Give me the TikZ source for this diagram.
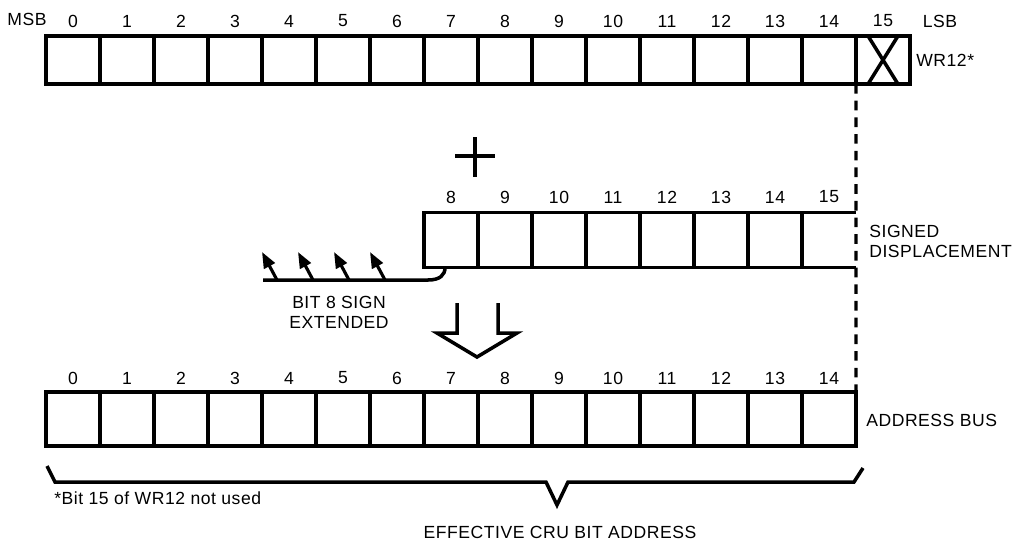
\documentclass[tikz,border=0pt]{standalone}
\usepackage{fontspec}
\setmainfont[LetterSpace=3]{Liberation Sans}
\usetikzlibrary{arrows.meta}

\begin{document}
\begin{tikzpicture}
	[x=0.02cm,y=-0.02cm,
	box/.style={rectangle,draw=black,line width=2pt,outer sep=0pt,minimum width=1.08cm,minimum height=1.08cm,inner sep=0pt},
	plain/.style={draw=none,fill=none,inner sep=0pt,font=\fontsize{10}{11.4}\selectfont},
	edge/.style={line width=2pt},
	signarrow/.style={line width=1.8pt,arrows={-Triangle[length=3.2mm,width=2.4mm]}}
	]
	\useasboundingbox (0,0) rectangle (1023,545);

	% WR12
	\foreach \i in {0,...,15}{
		\node[box,minimum height=0.96cm] (t\i) at ({73+54*\i},60){};
		\node[plain] (tl\i) at ({73+54*\i},21){\i};
	}
	\draw[edge] ([xshift=-8.5pt]t15.north) -- ([xshift=8.5pt]t15.south);
	\draw[edge] ([xshift=8.5pt]t15.north) -- ([xshift=-8.5pt]t15.south);
	\node[plain] (msb) at (27,19){MSB};
	\node[plain] (lsb) at (940,21){LSB};
	\node[plain,anchor=west] (wr) at (916,60){WR12*};

	% plus
	\draw[edge] (455,156) -- (495,156) (475,137) -- (475,177);

	% signed displacement
	\foreach \i in {8,...,14}
		\node[box,minimum height=1.1cm] (m\i) at ({73+54*(\i-1)},240){};
	\node[box,draw=none,minimum height=1.1cm] (m15) at ({73+54*14},240){};
	\draw[edge] (m14.north east) -- (m15.north east);
	\draw[edge] (m14.south east) -- (m15.south east);
	\foreach \i in {8,...,15}
		\node[plain] (ml\i) at ({73+54*(\i-1)},197){\i};
	\node[plain,anchor=west,align=left] (sd) at (869,241){SIGNED\\DISPLACEMENT};

	% sign extension
	\coordinate (ext) at (263,280);
	\coordinate (bend) at (428,280);
	\coordinate (join) at (445,267.5);
	\draw[edge] (ext) -- (bend) .. controls (440,280) and (445,275) .. (join);
	\foreach \x in {277,313,349,385}
		\draw[signarrow] (\x,280) -- ++(-15,-28);
	\node[plain,align=center] (sgn) at (339,312){BIT 8 SIGN\\EXTENDED};

	% hollow arrow
	\draw[edge,line join=miter] (457,303) -- (457,333) -- (437,333) -- (477,357) -- (517,333) -- (498,333) -- (498,303);

	% address bus
	\foreach \i in {0,...,14}{
		\node[box] (b\i) at ({73+54*\i},419){};
		\node[plain] (bl\i) at ({73+54*\i},378){\i};
	}
	\node[plain,anchor=west] (ab) at (866,420){ADDRESS BUS};

	\draw[edge,line width=1.8pt,dash pattern=on 5.5pt off 4pt] (t15.south west) -- (b14.north east);

	% brace
	\draw[edge] (47,466) -- (55,482) -- (546,482) -- (557,505) -- (568,482) -- (854,482) -- (863,468);
	\node[plain,anchor=west] (note) at (54,498){*Bit 15 of WR12 not used};
	\node[plain] (eff) at (560,532){EFFECTIVE CRU BIT ADDRESS};
\end{tikzpicture}
\end{document}
